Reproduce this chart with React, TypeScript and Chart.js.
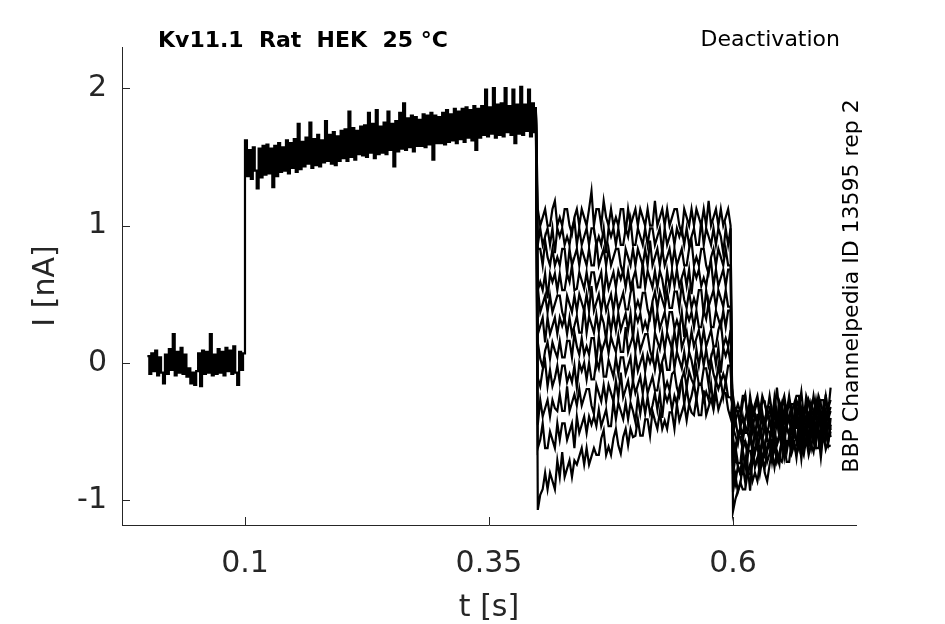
import { useEffect, useRef } from 'react';
import { Chart, registerables } from 'chart.js';

Chart.register(...registerables);

// sampling of the recording: holding + activating step at 2 ms, tail + post pulses at 2.5 ms
const HOLD_START = 0;
const STEP_START = 0.1;
const TAIL_START = 0.4;
const POST_START = 0.6;
const DT_BASE = 0.002;
const DT_SWEEP = 0.0025;

const xTicks = [0.1, 0.35, 0.6];
const yTicks = [-1, 0, 1, 2];

// holding level (nA), shared by all sweeps
const holdTrace = [
  0.05, -0.08, 0.07, -0.06, 0.09, -0.09, 0.04, -0.07, -0.15, 0.06,
  -0.08, 0.1, -0.05, 0.21, -0.09, 0.08, -0.07, 0.11, -0.08, 0.06,
  -0.1, -0.04, -0.15, -0.07, -0.16, -0.06, 0.07, -0.17, 0.09, -0.08,
  0.08, -0.07, 0.21, -0.09, 0.06, -0.08, 0.1, -0.07, 0.08, -0.09,
  0.11, -0.06, 0.09, -0.08, 0.12, -0.07, -0.16, 0.08, -0.05, 0.07,
];

// activating step, shared by all sweeps
const stepTrace = [
  1.62, 1.36, 1.55, 1.34, 1.57, 1.4, 1.27, 1.56, 1.35, 1.58,
  1.37, 1.59, 1.38, 1.56, 1.28, 1.58, 1.36, 1.6, 1.39, 1.57,
  1.4, 1.62, 1.38, 1.6, 1.42, 1.63, 1.39, 1.74, 1.41, 1.61,
  1.43, 1.64, 1.45, 1.75, 1.42, 1.63, 1.44, 1.66, 1.43, 1.62,
  1.46, 1.76, 1.47, 1.66, 1.45, 1.68, 1.44, 1.65, 1.47, 1.69,
  1.49, 1.7, 1.47, 1.83, 1.5, 1.71, 1.48, 1.69, 1.52, 1.72,
  1.51, 1.73, 1.5, 1.82, 1.53, 1.74, 1.49, 1.84, 1.52, 1.72,
  1.53, 1.75, 1.52, 1.83, 1.55, 1.74, 1.43, 1.76, 1.54, 1.82,
  1.56, 1.89, 1.55, 1.78, 1.57, 1.8, 1.54, 1.79, 1.58, 1.77,
  1.58, 1.81, 1.57, 1.8, 1.59, 1.82, 1.48, 1.8, 1.6, 1.79,
  1.6, 1.82, 1.59, 1.84, 1.61, 1.81, 1.62, 1.85, 1.6, 1.83,
  1.63, 1.85, 1.61, 1.86, 1.64, 1.84, 1.62, 1.87, 1.55, 1.85,
  1.64, 1.87, 1.66, 1.99, 1.65, 1.86, 1.67, 2.0, 1.64, 1.88,
  1.66, 1.89, 1.65, 2.0, 1.68, 1.87, 1.66, 1.99, 1.6, 1.88,
  1.67, 2.01, 1.66, 1.88, 1.69, 1.99, 1.65, 1.89, 1.68, 1.86,
];

// tail currents, one row per sweep (0.4 .. 0.5975 s)
const tailSweeps = [
  [1.12, 1.0, 1.06, 1.12, 1.0, 1.0, 1.12, 1.18, 1.0, 1.06,
    1.0, 1.12, 1.12, 1.0, 0.94, 1.06, 1.12, 1.0, 1.12, 1.06,
    1.0, 1.12, 1.25, 1.0, 1.12, 1.12, 1.0, 1.18, 1.06, 1.0,
    1.12, 1.0, 1.06, 1.0, 1.12, 1.12, 0.94, 1.12, 1.0, 1.06,
    1.12, 1.0, 1.12, 1.06, 1.0, 1.12, 1.0, 1.0, 1.18, 1.0,
    1.06, 1.12, 1.0, 1.12, 1.0, 1.06, 1.12, 1.12, 1.0, 0.94,
    1.12, 1.06, 1.0, 1.12, 1.0, 1.12, 1.06, 1.0, 1.12, 1.0,
    1.18, 1.0, 1.06, 1.12, 1.0, 1.12, 1.0, 1.06, 1.12, 1.0],
  [0.86, 0.98, 0.86, 0.92, 0.98, 0.86, 0.98, 0.8, 0.98, 0.92,
    0.98, 0.86, 0.92, 0.86, 0.98, 1.04, 0.86, 0.98, 0.86, 0.92,
    0.98, 0.86, 0.98, 0.98, 0.86, 0.92, 0.86, 0.98, 0.8, 0.98,
    0.92, 0.98, 0.86, 0.98, 0.86, 0.86, 0.98, 0.92, 1.04, 0.86,
    0.86, 0.98, 0.92, 0.86, 0.98, 0.86, 0.98, 0.98, 0.86, 0.92,
    0.98, 0.8, 0.98, 0.86, 0.92, 0.98, 0.86, 0.98, 0.92, 0.98,
    0.86, 0.98, 0.86, 0.92, 0.98, 0.86, 0.86, 1.04, 0.86, 0.98,
    0.92, 0.86, 0.98, 0.86, 0.98, 0.92, 0.8, 0.98, 0.86, 0.98],
  [0.83, 0.83, 0.71, 0.89, 0.77, 0.71, 0.83, 0.71, 0.77, 0.71,
    0.83, 0.83, 0.65, 0.83, 0.71, 0.77, 0.83, 0.71, 0.83, 0.77,
    0.71, 0.83, 0.71, 0.71, 0.89, 0.71, 0.77, 0.83, 0.71, 0.83,
    0.71, 0.77, 0.83, 0.83, 0.71, 0.65, 0.83, 0.77, 0.71, 0.83,
    0.71, 0.83, 0.77, 0.71, 0.83, 0.71, 0.89, 0.71, 0.77, 0.83,
    0.71, 0.83, 0.71, 0.77, 0.83, 0.71, 0.83, 0.71, 0.77, 0.83,
    0.71, 0.71, 0.83, 0.89, 0.71, 0.77, 0.71, 0.83, 0.83, 0.71,
    0.65, 0.77, 0.83, 0.71, 0.83, 0.77, 0.71, 0.83, 0.71, 0.71],
  [0.53, 0.59, 0.53, 0.65, 0.47, 0.65, 0.59, 0.65, 0.53, 0.65,
    0.53, 0.53, 0.65, 0.59, 0.71, 0.53, 0.54, 0.66, 0.6, 0.54,
    0.66, 0.54, 0.66, 0.66, 0.54, 0.6, 0.66, 0.48, 0.66, 0.54,
    0.6, 0.66, 0.55, 0.67, 0.61, 0.67, 0.55, 0.67, 0.55, 0.61,
    0.67, 0.55, 0.55, 0.73, 0.55, 0.67, 0.61, 0.55, 0.67, 0.55,
    0.67, 0.61, 0.49, 0.67, 0.55, 0.67, 0.56, 0.68, 0.56, 0.62,
    0.68, 0.56, 0.68, 0.5, 0.68, 0.62, 0.68, 0.56, 0.62, 0.56,
    0.68, 0.74, 0.56, 0.68, 0.56, 0.62, 0.68, 0.56, 0.68, 0.68],
  [0.55, 0.37, 0.43, 0.49, 0.37, 0.49, 0.37, 0.43, 0.49, 0.49,
    0.37, 0.31, 0.49, 0.43, 0.37, 0.49, 0.38, 0.5, 0.44, 0.38,
    0.5, 0.38, 0.56, 0.38, 0.44, 0.5, 0.38, 0.5, 0.38, 0.44,
    0.5, 0.38, 0.51, 0.39, 0.45, 0.51, 0.39, 0.39, 0.51, 0.57,
    0.39, 0.45, 0.39, 0.51, 0.51, 0.39, 0.33, 0.45, 0.52, 0.4,
    0.52, 0.46, 0.4, 0.52, 0.4, 0.4, 0.52, 0.52, 0.4, 0.58,
    0.46, 0.4, 0.52, 0.4, 0.47, 0.41, 0.53, 0.53, 0.35, 0.53,
    0.41, 0.47, 0.53, 0.41, 0.53, 0.47, 0.41, 0.53, 0.41, 0.41],
  [0.21, 0.27, 0.33, 0.15, 0.33, 0.21, 0.27, 0.33, 0.21, 0.33,
    0.27, 0.33, 0.21, 0.33, 0.21, 0.27, 0.34, 0.22, 0.22, 0.4,
    0.22, 0.34, 0.28, 0.22, 0.35, 0.23, 0.35, 0.29, 0.17, 0.35,
    0.23, 0.35, 0.24, 0.36, 0.24, 0.3, 0.36, 0.24, 0.36, 0.18,
    0.36, 0.3, 0.36, 0.24, 0.3, 0.24, 0.36, 0.42, 0.25, 0.37,
    0.25, 0.31, 0.37, 0.25, 0.37, 0.37, 0.25, 0.31, 0.25, 0.37,
    0.19, 0.37, 0.31, 0.37, 0.26, 0.38, 0.26, 0.26, 0.38, 0.32,
    0.44, 0.26, 0.26, 0.38, 0.32, 0.26, 0.38, 0.26, 0.38, 0.38],
  [0.15, 0.03, -0.03, 0.09, 0.15, 0.03, 0.15, 0.09, 0.04, 0.16,
    0.04, 0.04, 0.16, 0.16, 0.04, 0.22, 0.12, 0.06, 0.18, 0.06,
    0.12, 0.06, 0.18, 0.18, 0.01, 0.19, 0.07, 0.13, 0.19, 0.07,
    0.19, 0.13, 0.08, 0.2, 0.08, 0.08, 0.26, 0.08, 0.14, 0.2,
    0.09, 0.21, 0.09, 0.15, 0.21, 0.21, 0.09, 0.03, 0.22, 0.16,
    0.1, 0.22, 0.1, 0.22, 0.16, 0.1, 0.23, 0.11, 0.29, 0.11,
    0.17, 0.23, 0.11, 0.23, 0.12, 0.18, 0.24, 0.12, 0.24, 0.12,
    0.18, 0.24, 0.12, 0.12, 0.24, 0.3, 0.12, 0.18, 0.12, 0.24],
  [-0.11, -0.17, -0.05, 0.01, -0.17, -0.05, -0.17, -0.11, -0.02, -0.14,
    -0.02, -0.02, -0.14, -0.08, -0.14, -0.02, -0.18, 0.0, -0.06, 0.0,
    -0.12, 0.0, -0.12, -0.12, 0.02, -0.04, 0.08, -0.1, -0.1, 0.02,
    -0.04, -0.1, 0.04, -0.08, 0.04, 0.04, -0.08, -0.02, 0.04, -0.14,
    0.06, -0.06, 0.0, 0.06, -0.06, 0.06, 0.0, 0.06, -0.05, 0.07,
    -0.05, 0.01, 0.07, -0.05, -0.05, 0.13, -0.04, 0.08, 0.02, -0.04,
    0.08, -0.04, 0.08, 0.02, -0.08, 0.1, -0.02, 0.1, -0.02, 0.1,
    -0.02, 0.04, 0.11, -0.01, 0.11, -0.07, 0.11, 0.05, 0.11, -0.01],
  [-0.45, -0.27, -0.39, -0.33, -0.27, -0.39, -0.27, -0.33, -0.35, -0.23,
    -0.35, -0.35, -0.17, -0.35, -0.29, -0.23, -0.31, -0.19, -0.31, -0.25,
    -0.19, -0.19, -0.31, -0.37, -0.16, -0.22, -0.28, -0.16, -0.28, -0.16,
    -0.22, -0.28, -0.13, -0.25, -0.07, -0.25, -0.19, -0.13, -0.25, -0.13,
    -0.22, -0.16, -0.1, -0.22, -0.1, -0.22, -0.16, -0.1, -0.2, -0.2,
    -0.08, -0.02, -0.2, -0.14, -0.2, -0.08, -0.06, -0.18, -0.24, -0.12,
    -0.06, -0.18, -0.06, -0.12, -0.16, -0.04, -0.16, -0.16, -0.04, -0.04,
    -0.16, 0.02, -0.08, -0.14, -0.02, -0.14, -0.08, -0.14, -0.02, -0.02],
  [-0.62, -0.56, -0.44, -0.62, -0.62, -0.5, -0.56, -0.62, -0.44, -0.56,
    -0.44, -0.44, -0.56, -0.5, -0.44, -0.62, -0.39, -0.51, -0.45, -0.39,
    -0.51, -0.39, -0.45, -0.39, -0.46, -0.34, -0.46, -0.4, -0.34, -0.46,
    -0.46, -0.28, -0.41, -0.29, -0.35, -0.41, -0.29, -0.41, -0.29, -0.35,
    -0.43, -0.25, -0.37, -0.25, -0.37, -0.25, -0.37, -0.31, -0.22, -0.34,
    -0.22, -0.4, -0.22, -0.28, -0.22, -0.34, -0.24, -0.3, -0.18, -0.12,
    -0.3, -0.18, -0.3, -0.24, -0.15, -0.27, -0.15, -0.15, -0.27, -0.21,
    -0.27, -0.15, -0.31, -0.13, -0.19, -0.13, -0.25, -0.13, -0.25, -0.25],
  [-1.07, -0.96, -0.92, -0.8, -0.92, -0.8, -0.86, -0.92, -0.71, -0.83,
    -0.65, -0.83, -0.77, -0.71, -0.83, -0.71, -0.74, -0.68, -0.62, -0.74,
    -0.62, -0.74, -0.68, -0.62, -0.67, -0.67, -0.55, -0.49, -0.67, -0.61,
    -0.67, -0.55, -0.48, -0.6, -0.66, -0.54, -0.48, -0.6, -0.48, -0.54,
    -0.53, -0.41, -0.53, -0.53, -0.41, -0.41, -0.53, -0.35, -0.42, -0.48,
    -0.36, -0.48, -0.42, -0.48, -0.36, -0.36, -0.48, -0.3, -0.42, -0.36,
    -0.3, -0.42, -0.3, -0.36, -0.38, -0.26, -0.38, -0.38, -0.2, -0.38,
    -0.32, -0.26, -0.34, -0.22, -0.34, -0.28, -0.22, -0.22, -0.34, -0.4],
];

// post pulse currents, one row per sweep (0.6 .. 0.7 s)
const postSweeps = [
  [-1.08, -0.99, -0.93, -0.87, -0.92, -0.92, -0.8, -0.74, -0.86, -0.8,
    -0.86, -0.74, -0.68, -0.8, -0.86, -0.74, -0.64, -0.76, -0.64, -0.7,
    -0.72, -0.6, -0.72, -0.72, -0.57, -0.57, -0.69, -0.51, -0.61, -0.67,
    -0.55, -0.67, -0.59, -0.65, -0.53, -0.53, -0.69, -0.51, -0.63, -0.57, -0.5],
  [-0.94, -0.82, -0.94, -0.88, -0.75, -0.87, -0.75, -0.93, -0.69, -0.75,
    -0.69, -0.81, -0.7, -0.76, -0.64, -0.58, -0.72, -0.6, -0.72, -0.66,
    -0.57, -0.69, -0.57, -0.57, -0.66, -0.6, -0.66, -0.54, -0.7, -0.52,
    -0.58, -0.52, -0.62, -0.5, -0.62, -0.62, -0.49, -0.55, -0.43, -0.61, -0.6],
  [-0.75, -0.87, -0.75, -0.81, -0.81, -0.69, -0.81, -0.81, -0.58, -0.76,
    -0.7, -0.64, -0.72, -0.6, -0.72, -0.66, -0.56, -0.56, -0.68, -0.74,
    -0.53, -0.59, -0.65, -0.53, -0.63, -0.51, -0.57, -0.63, -0.49, -0.61,
    -0.43, -0.61, -0.53, -0.47, -0.59, -0.47, -0.58, -0.52, -0.46, -0.58, -0.45],
  [-0.81, -0.69, -0.75, -0.81, -0.64, -0.76, -0.64, -0.64, -0.71, -0.65,
    -0.59, -0.77, -0.55, -0.67, -0.61, -0.55, -0.64, -0.52, -0.58, -0.52,
    -0.62, -0.5, -0.62, -0.56, -0.48, -0.6, -0.6, -0.42, -0.58, -0.46,
    -0.52, -0.58, -0.44, -0.56, -0.44, -0.5, -0.61, -0.43, -0.55, -0.43, -0.54],
  [-0.73, -0.61, -0.73, -0.73, -0.57, -0.57, -0.69, -0.51, -0.59, -0.65,
    -0.53, -0.65, -0.56, -0.62, -0.5, -0.5, -0.66, -0.48, -0.6, -0.54,
    -0.46, -0.58, -0.46, -0.52, -0.56, -0.44, -0.56, -0.56, -0.36, -0.54,
    -0.48, -0.42, -0.53, -0.41, -0.53, -0.47, -0.4, -0.4, -0.52, -0.58, -0.4],
  [-0.54, -0.66, -0.54, -0.54, -0.63, -0.57, -0.63, -0.51, -0.66, -0.48,
    -0.54, -0.48, -0.57, -0.45, -0.57, -0.57, -0.43, -0.49, -0.37, -0.55,
    -0.53, -0.41, -0.47, -0.53, -0.4, -0.52, -0.4, -0.4, -0.51, -0.45,
    -0.39, -0.57, -0.38, -0.5, -0.44, -0.38, -0.49, -0.37, -0.43, -0.37, -0.49],
  [-0.47, -0.53, -0.59, -0.47, -0.57, -0.45, -0.51, -0.57, -0.43, -0.55,
    -0.37, -0.55, -0.47, -0.41, -0.53, -0.41, -0.51, -0.45, -0.39, -0.51,
    -0.38, -0.5, -0.44, -0.38, -0.49, -0.49, -0.37, -0.31, -0.48, -0.42,
    -0.48, -0.36, -0.35, -0.47, -0.53, -0.41, -0.35, -0.47, -0.35, -0.41, -0.46],
  [-0.53, -0.41, -0.53, -0.47, -0.39, -0.51, -0.51, -0.33, -0.49, -0.37,
    -0.43, -0.49, -0.36, -0.48, -0.36, -0.42, -0.53, -0.35, -0.47, -0.35,
    -0.46, -0.34, -0.46, -0.4, -0.33, -0.45, -0.33, -0.51, -0.33, -0.39,
    -0.33, -0.45, -0.38, -0.44, -0.32, -0.26, -0.44, -0.32, -0.44, -0.38, -0.32],
  [-0.47, -0.35, -0.35, -0.47, -0.52, -0.4, -0.34, -0.46, -0.33, -0.39,
    -0.45, -0.33, -0.44, -0.44, -0.32, -0.32, -0.43, -0.25, -0.37, -0.43,
    -0.31, -0.43, -0.37, -0.43, -0.3, -0.3, -0.48, -0.3, -0.42, -0.36,
    -0.3, -0.42, -0.29, -0.35, -0.41, -0.29, -0.41, -0.41, -0.23, -0.41, -0.35],
  [-0.3, -0.42, -0.36, -0.42, -0.29, -0.23, -0.41, -0.29, -0.4, -0.34,
    -0.28, -0.4, -0.28, -0.28, -0.4, -0.34, -0.4, -0.28, -0.46, -0.28,
    -0.33, -0.27, -0.39, -0.27, -0.39, -0.39, -0.27, -0.33, -0.21, -0.39,
    -0.39, -0.27, -0.33, -0.39, -0.27, -0.39, -0.27, -0.27, -0.39, -0.33, -0.27],
  [-0.24, -0.36, -0.3, -0.36, -0.24, -0.24, -0.42, -0.24, -0.36, -0.3,
    -0.24, -0.36, -0.24, -0.3, -0.36, -0.24, -0.36, -0.36, -0.18, -0.36,
    -0.3, -0.24, -0.36, -0.24, -0.36, -0.3, -0.24, -0.24, -0.36, -0.42,
    -0.24, -0.3, -0.36, -0.24, -0.36, -0.24, -0.3, -0.36, -0.24, -0.36, -0.18],
];

const FONT = "'DejaVu Sans', sans-serif";
const AXIS_COLOR = '#262626';

const toPoints = (values: number[], t0: number, dt: number) =>
  values.map((y, i) => ({ x: t0 + i * dt, y }));

const decorations = {
  id: 'decorations',
  afterDraw(chart: Chart) {
    const { ctx, chartArea, scales } = chart;
    const xs = scales.x;
    const ys = scales.y;
    ctx.save();
    // inward tick marks
    ctx.strokeStyle = AXIS_COLOR;
    ctx.lineWidth = 1;
    ctx.beginPath();
    xTicks.forEach((v) => {
      const px = Math.round(xs.getPixelForValue(v)) + 0.5;
      ctx.moveTo(px, chartArea.bottom);
      ctx.lineTo(px, chartArea.bottom - 8);
    });
    yTicks.forEach((v) => {
      const py = Math.round(ys.getPixelForValue(v)) + 0.5;
      ctx.moveTo(chartArea.left, py);
      ctx.lineTo(chartArea.left + 8, py);
    });
    ctx.stroke();

    // axis labels
    ctx.fillStyle = AXIS_COLOR;
    ctx.font = `30px ${FONT}`;
    ctx.textAlign = 'center';
    ctx.textBaseline = 'alphabetic';
    ctx.fillText('t [s]', (chartArea.left + chartArea.right) / 2, 616);
    ctx.save();
    ctx.translate(54, (chartArea.top + chartArea.bottom) / 2);
    ctx.rotate(-Math.PI / 2);
    ctx.fillText('I [nA]', 0, 0);
    ctx.restore();

    // titles
    ctx.fillStyle = '#000';
    ctx.font = `bold 22px ${FONT}`;
    ctx.textAlign = 'left';
    ctx.fillText('Kv11.1  Rat  HEK  25 °C', 158, 47);
    ctx.font = `22px ${FONT}`;
    ctx.textAlign = 'right';
    ctx.fillText('Deactivation', 840, 46);
    ctx.save();
    ctx.translate(858, (chartArea.top + chartArea.bottom) / 2);
    ctx.rotate(-Math.PI / 2);
    ctx.textAlign = 'center';
    ctx.fillText('BBP Channelpedia ID 13595 rep 2', 0, 0);
    ctx.restore();
    ctx.restore();
  },
};

const App: React.FC = () => {
  const canvasRef = useRef<HTMLCanvasElement>(null);
  const chartRef = useRef<Chart | null>(null);

  useEffect(() => {
    document.body.style.margin = '0';
    const ctx = canvasRef.current?.getContext('2d');
    if (!ctx) return;

    const basePoints = [
      ...toPoints(holdTrace, HOLD_START, DT_BASE),
      ...toPoints(stepTrace, STEP_START, DT_BASE),
    ];
    const stepEnd = basePoints[basePoints.length - 1];
    const sweeps = tailSweeps.map((tail, k) => [
      stepEnd,
      ...toPoints(tail, TAIL_START, DT_SWEEP),
      ...toPoints(postSweeps[k], POST_START, DT_SWEEP),
    ]);

    const lineStyle = {
      borderColor: '#000',
      pointRadius: 0,
      fill: false,
    };

    chartRef.current = new Chart(ctx, {
      type: 'line',
      data: {
        datasets: [
          { label: 'base', data: basePoints, borderWidth: 2.2, stepped: true, ...lineStyle },
          ...sweeps.map((pts, k) => ({
            label: `sweep ${k + 1}`,
            data: pts,
            borderWidth: 2.2,
            tension: 0,
            ...lineStyle,
          })),
        ],
      },
      options: {
        animation: false,
        responsive: true,
        maintainAspectRatio: false,
        layout: { padding: { top: 47, right: 89, left: 0, bottom: 0 } },
        plugins: { legend: { display: false }, tooltip: { enabled: false } },
        scales: {
          x: {
            type: 'linear',
            min: -0.026,
            max: 0.726,
            grid: { display: false, drawTicks: false },
            border: { display: true, color: AXIS_COLOR, width: 1 },
            afterBuildTicks: (scale) => {
              scale.ticks = xTicks.map((value) => ({ value }));
            },
            afterFit: (scale) => {
              scale.height = 99;
            },
            ticks: {
              autoSkip: false,
              maxRotation: 0,
              padding: 21,
              color: AXIS_COLOR,
              font: { family: FONT, size: 30 },
              callback: (v) => String(v),
            },
          },
          y: {
            type: 'linear',
            min: -1.18,
            max: 2.3,
            grid: { display: false, drawTicks: false },
            border: { display: true, color: AXIS_COLOR, width: 1 },
            afterBuildTicks: (scale) => {
              scale.ticks = yTicks.map((value) => ({ value }));
            },
            afterFit: (scale) => {
              scale.width = 122;
            },
            ticks: {
              padding: 15,
              color: AXIS_COLOR,
              font: { family: FONT, size: 30 },
              callback: (v) => String(v),
            },
          },
        },
      },
      plugins: [decorations],
    });

    return () => {
      chartRef.current?.destroy();
      chartRef.current = null;
    };
  }, []);

  return (
    <div style={{ position: 'fixed', left: 0, top: 0, width: 945, height: 624, background: '#fff' }}>
      <canvas ref={canvasRef} />
    </div>
  );
};

export default App;
